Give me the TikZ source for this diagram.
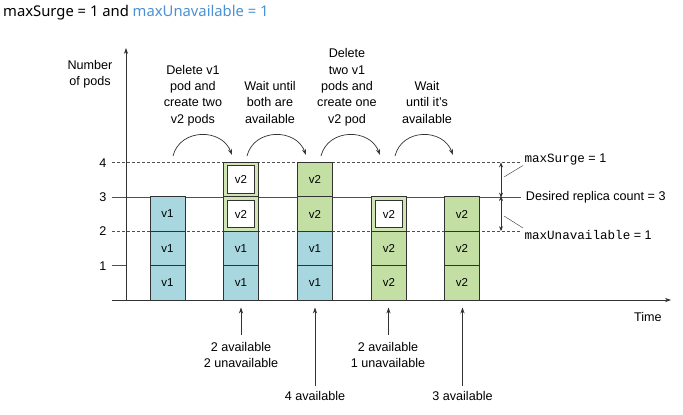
\documentclass[tikz,border=0pt]{standalone}
\usepackage{fontspec}
\setmainfont{Liberation Sans}
\setmonofont{Liberation Mono}
\newfontfamily\titlefont{Noto Sans}
\usetikzlibrary{arrows.meta}
\definecolor{linec}{RGB}{50,50,50}
\definecolor{v1c}{RGB}{168,215,224}
\definecolor{v2c}{RGB}{196,223,163}
\definecolor{pendc}{RGB}{208,228,180}
\definecolor{titleblue}{RGB}{74,144,210}
\definecolor{gridc}{RGB}{80,80,80}
\begin{document}
\begin{tikzpicture}[x=1pt,y=-1pt,
  txt/.style={font=\fontsize{12.6}{16.4}\selectfont, inner sep=0pt, align=center, anchor=base},
  cell/.style={draw=linec, line width=0.8pt, minimum width=35pt, minimum height=34.4pt, inner sep=0pt, font=\fontsize{11.5}{13}\selectfont},
  v1/.style={cell, fill=v1c},
  v2/.style={cell, fill=v2c},
  pend/.style={cell, fill=pendc},
  innerbox/.style={draw=linec, fill=white, line width=0.9pt, minimum width=27.5pt, minimum height=27.5pt, inner sep=0pt, font=\fontsize{11.5}{13}\selectfont},
  arr/.style={draw=linec, line width=0.7pt, -{Stealth[length=6pt,width=4.2pt]}},
  dbl/.style={draw=linec, line width=0.7pt, {Stealth[length=5pt,width=4pt]}-{Stealth[length=5pt,width=4pt]}},
  guide/.style={draw=gridc, line width=0.6pt, dash pattern=on 3pt off 2pt},
  solidguide/.style={draw=gridc, line width=0.6pt},
  mono/.style={font=\fontsize{12.6}{14}\selectfont, inner sep=0pt, anchor=base west}
]
\useasboundingbox (0,0) rectangle (683,415);

% title
\node[anchor=base west, inner sep=0pt, font=\titlefont\fontsize{14.8}{17}\selectfont] (title) at (3,16.7)
  {maxSurge = 1 and \textcolor{titleblue}{maxUnavailable = 1}};

% guide lines
\coordinate (g4l) at (112,162.4); \coordinate (g4r) at (521,162.4);
\coordinate (g3l) at (112,196.8); \coordinate (g3r) at (521,196.8);
\coordinate (g2l) at (112,231.2); \coordinate (g2r) at (521,231.2);
\coordinate (g1l) at (112,265.6); \coordinate (g1r) at (126,265.6);
\draw[guide] (g4l) -- (g4r);
\draw[solidguide] (g3l) -- (g3r);
\draw[guide] (g2l) -- (g2r);
\draw[solidguide] (g1l) -- (g1r);

% axes
\coordinate (o) at (126,300);
\coordinate (ytop) at (126,48);
\coordinate (xl) at (112,300);
\coordinate (xr) at (671,300);
\draw[arr] (o) -- (ytop);
\draw[arr] (xl) -- (xr);

% tick labels
\node[txt] (t4) at (103,167) {4};
\node[txt] (t3) at (103,201.4) {3};
\node[txt] (t2) at (103,235.8) {2};
\node[txt] (t1) at (103,270.2) {1};

\node[txt] (ylab) at (90,85.7) {Number\\of pods};
\node[txt, anchor=base west] (time) at (634,321.7) {Time};

% columns
% column 1
\node[v1] (c11) at (167.5,282.8) {v1};
\node[v1] (c12) at (167.5,248.4) {v1};
\node[v1] (c13) at (167.5,214.0) {v1};
% column 2
\node[v1] (c21) at (241,282.8) {v1};
\node[v1] (c22) at (241,248.4) {v1};
\node[pend] (c23) at (241,214.0) {};
\node[innerbox] (c23i) at (241,214.0) {v2};
\node[pend] (c24) at (241,179.6) {};
\node[innerbox] (c24i) at (241,179.6) {v2};
% column 3
\node[v1] (c31) at (315,282.8) {v1};
\node[v1] (c32) at (315,248.4) {v1};
\node[v2] (c33) at (315,214.0) {v2};
\node[v2] (c34) at (315,179.6) {v2};
% column 4
\node[v2] (c41) at (389,282.8) {v2};
\node[v2] (c42) at (389,248.4) {v2};
\node[pend] (c43) at (389,214.0) {};
\node[innerbox] (c43i) at (389,214.0) {v2};
% column 5
\node[v2] (c51) at (462,282.8) {v2};
\node[v2] (c52) at (462,248.4) {v2};
\node[v2] (c53) at (462,214.0) {v2};

% redraw baseline over column bottoms
\draw[draw=linec, line width=0.8pt] (xl) -- (660,300);

% top step texts (anchored at the baseline of their last line)
\node[txt] (s1) at (193,123.3) {Delete v1\\pod and\\create two\\v2 pods};
\node[txt] (s2) at (270,123.3) {Wait until\\both are\\available};
\node[txt] (s3) at (347,123.3) {Delete\\two v1\\pods and\\create one\\v2 pod};
\node[txt] (s4) at (427,123.3) {Wait\\until it's\\available};

% curved arrows
\coordinate (a1s) at (173,156); \coordinate (a1e) at (232,155);
\coordinate (a2s) at (247,156); \coordinate (a2e) at (306,155);
\coordinate (a3s) at (321,156); \coordinate (a3e) at (380,155);
\coordinate (a4s) at (395,156); \coordinate (a4e) at (453,155);
\draw[arr] (a1s) .. controls ([xshift=7pt,yshift=28pt]a1s) and ([xshift=-10pt,yshift=27pt]a1e) .. (a1e);
\draw[arr] (a2s) .. controls ([xshift=7pt,yshift=28pt]a2s) and ([xshift=-10pt,yshift=27pt]a2e) .. (a2e);
\draw[arr] (a3s) .. controls ([xshift=7pt,yshift=28pt]a3s) and ([xshift=-10pt,yshift=27pt]a3e) .. (a3e);
\draw[arr] (a4s) .. controls ([xshift=7pt,yshift=28pt]a4s) and ([xshift=-10pt,yshift=27pt]a4e) .. (a4e);

% right annotations
\coordinate (d4) at (501,162.4);
\coordinate (d3) at (501,196.8);
\coordinate (d2) at (501,231.2);
\draw[dbl] (d4) -- ([yshift=-0.8pt]d3);
\draw[dbl] ([yshift=0.8pt]d3) -- (d2);
\node[mono] (ms) at (524.3,162) {\texttt{maxSurge} = 1};
\node[mono] (dr) at (525.7,200.3) {Desired replica count = 3};
\node[mono] (mu) at (524.3,239) {\texttt{maxUnavailable} = 1};
\coordinate (l1a) at (504,177); \coordinate (l1b) at (523,165.5);
\coordinate (l2a) at (504,216); \coordinate (l2b) at (523,228);
\draw[draw=gridc, line width=0.5pt] (l1a) -- (l1b);
\draw[draw=gridc, line width=0.5pt] (l2a) -- (l2b);

% bottom annotations (anchored at the baseline of their last line)
\node[txt] (b2) at (241,367.4) {2 available\\2 unavailable};
\node[txt] (b3) at (315,400) {4 available};
\node[txt] (b4) at (388,367.4) {2 available\\1 unavailable};
\node[txt] (b5) at (462.5,400) {3 available};
\coordinate (b2s) at (241,335); \coordinate (b2e) at (241,307.5);
\coordinate (b3s) at (315,386); \coordinate (b3e) at (315,307.5);
\coordinate (b4s) at (388.5,335); \coordinate (b4e) at (388.5,307.5);
\coordinate (b5s) at (462.5,386); \coordinate (b5e) at (462.5,307.5);
\draw[arr] (b2s) -- (b2e);
\draw[arr] (b3s) -- (b3e);
\draw[arr] (b4s) -- (b4e);
\draw[arr] (b5s) -- (b5e);
\end{tikzpicture}
\end{document}
